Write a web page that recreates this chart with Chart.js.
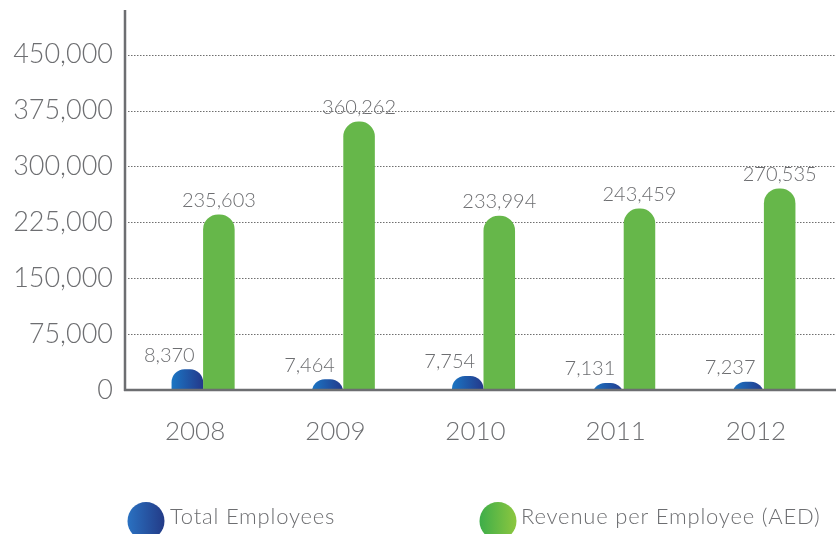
<!DOCTYPE html>
<html><head><meta charset="utf-8">
<script src="https://cdn.jsdelivr.net/npm/chart.js@4.4.0/dist/chart.umd.min.js"></script>
<style>html,body{margin:0;padding:0;background:#fff;overflow:hidden}#wrap{width:836px;height:534px;position:relative}canvas{display:block}</style>
</head><body><div id="wrap"><canvas id="c" width="836" height="534"></canvas></div>
<script>
const categories = ['2008', '2009', '2010', '2011', '2012'];
const totalEmployees = [8370, 7464, 7754, 7131, 7237];
const revenuePerEmployee = [235603, 360262, 233994, 243459, 270535];
const seriesNames = ['Total Employees', 'Revenue per Employee (AED)'];
const yTicks = [0, 75000, 150000, 225000, 300000, 375000, 450000];

const FONT = "Lato, 'Open Sans', sans-serif";
const GRAY = '#6d6e71';
const CAT_PCT = 0.45;

function blueGrad(c) {
  const ch = c.chart;
  const x = ch.scales && ch.scales.x;
  if (c.dataIndex === undefined || !ch.chartArea || !x) return '#1f56a8';
  const cx = x.getPixelForValue(c.dataIndex);
  const w = x.width / categories.length * CAT_PCT / 2;
  const g = ch.ctx.createLinearGradient(cx - w, 0, cx, 0);
  g.addColorStop(0, '#1b76c4');
  g.addColorStop(1, '#24388a');
  return g;
}

const frame = {
  id: 'frame',
  beforeDatasetsDraw(chart) {
    const { ctx, chartArea: a, scales: { y } } = chart;
    ctx.save();
    ctx.strokeStyle = '#6f6f6f';
    ctx.lineWidth = 1;
    ctx.setLineDash([1.5, 1.5]);
    yTicks.forEach(v => {
      if (v === 0) return;
      const py = Math.round(y.getPixelForValue(v)) + 0.5;
      ctx.beginPath();
      ctx.moveTo(a.left - 5, py);
      ctx.lineTo(chart.width, py);
      ctx.stroke();
    });
    ctx.restore();
  },
  afterDatasetsDraw(chart) {
    const { ctx, chartArea: a } = chart;
    ctx.save();
    ctx.strokeStyle = GRAY;
    ctx.lineWidth = 2.5;
    ctx.beginPath();
    ctx.moveTo(a.left - 8, a.top);
    ctx.lineTo(a.left - 8, a.bottom + 1);
    ctx.moveTo(a.left - 9, a.bottom);
    ctx.lineTo(chart.width, a.bottom);
    ctx.stroke();
    // value labels
    ctx.font = '300 20px ' + FONT;
    ctx.fillStyle = GRAY;
    ctx.textAlign = 'center';
    ctx.textBaseline = 'middle';
    chart.data.datasets.forEach((ds, di) => {
      const meta = chart.getDatasetMeta(di);
      meta.data.forEach((el, i) => {
        const dx = di === 0 ? -18 : 0;
        ctx.fillText(ds.data[i].toLocaleString('en-US'), el.x + dx, el.y - 14);
      });
    });
    ctx.restore();
  },
  afterDraw(chart) {
    const ctx = chart.ctx;
    const items = [
      { cx: 146, c0: '#2a72c2', c1: '#233a86', tx: 170 },
      { cx: 498, c0: '#3cad49', c1: '#8ec73f', tx: 521 }
    ];
    ctx.save();
    items.forEach((it, i) => {
      const g = ctx.createLinearGradient(it.cx - 19, 0, it.cx + 19, 0);
      g.addColorStop(0, it.c0);
      g.addColorStop(1, it.c1);
      ctx.fillStyle = g;
      ctx.beginPath();
      ctx.ellipse(it.cx, 521, 18.5, 19, 0, 0, Math.PI * 2);
      ctx.fill();
      ctx.fillStyle = GRAY;
      ctx.font = '300 22px ' + FONT;
      ctx.letterSpacing = '0.8px';
      ctx.textAlign = 'left';
      ctx.textBaseline = 'alphabetic';
      ctx.fillText(chart.data.datasets[i].label, it.tx, 524);
    });
    ctx.restore();
  }
};

new Chart(document.getElementById('c'), {
  type: 'bar',
  data: {
    labels: categories,
    datasets: [
      { label: seriesNames[0], data: totalEmployees, yAxisID: 'y2', backgroundColor: blueGrad,
        borderRadius: { topLeft: 13, topRight: 13 }, borderSkipped: 'bottom',
        categoryPercentage: CAT_PCT, barPercentage: 1 },
      { label: seriesNames[1], data: revenuePerEmployee, yAxisID: 'y', backgroundColor: '#66b74a',
        borderRadius: { topLeft: 15, topRight: 15 }, borderSkipped: 'bottom',
        categoryPercentage: CAT_PCT, barPercentage: 1 }
    ]
  },
  options: {
    responsive: false,
    animation: false,
    devicePixelRatio: 1,
    layout: { padding: { top: 10, right: 2, left: 0, bottom: 0 } },
    plugins: { legend: { display: false }, tooltip: { enabled: false } },
    scales: {
      x: {
        grid: { display: false, drawTicks: false },
        border: { display: false },
        ticks: { font: { size: 26, family: FONT, weight: 300 }, color: GRAY, padding: 26, labelOffset: -8 },
        afterFit(s) { s.height = 144; s.paddingLeft = 0; s.paddingRight = 0; }
      },
      y: {
        min: 0, max: 510000,
        grid: { display: false, drawTicks: false },
        border: { display: false },
        ticks: { autoSkip: false, font: { size: 27, family: FONT, weight: 300 }, color: GRAY, padding: 20,
          callback: v => Number(v).toLocaleString('en-US') },
        afterBuildTicks(s) { s.ticks = yTicks.map(v => ({ value: v })); },
        afterFit(s) { s.width = 133; s.paddingTop = 0; s.paddingBottom = 0; }
      },
      y2: { display: false, min: 6500, max: 40600 }
    }
  },
  plugins: [frame]
});
</script>
</body></html>
